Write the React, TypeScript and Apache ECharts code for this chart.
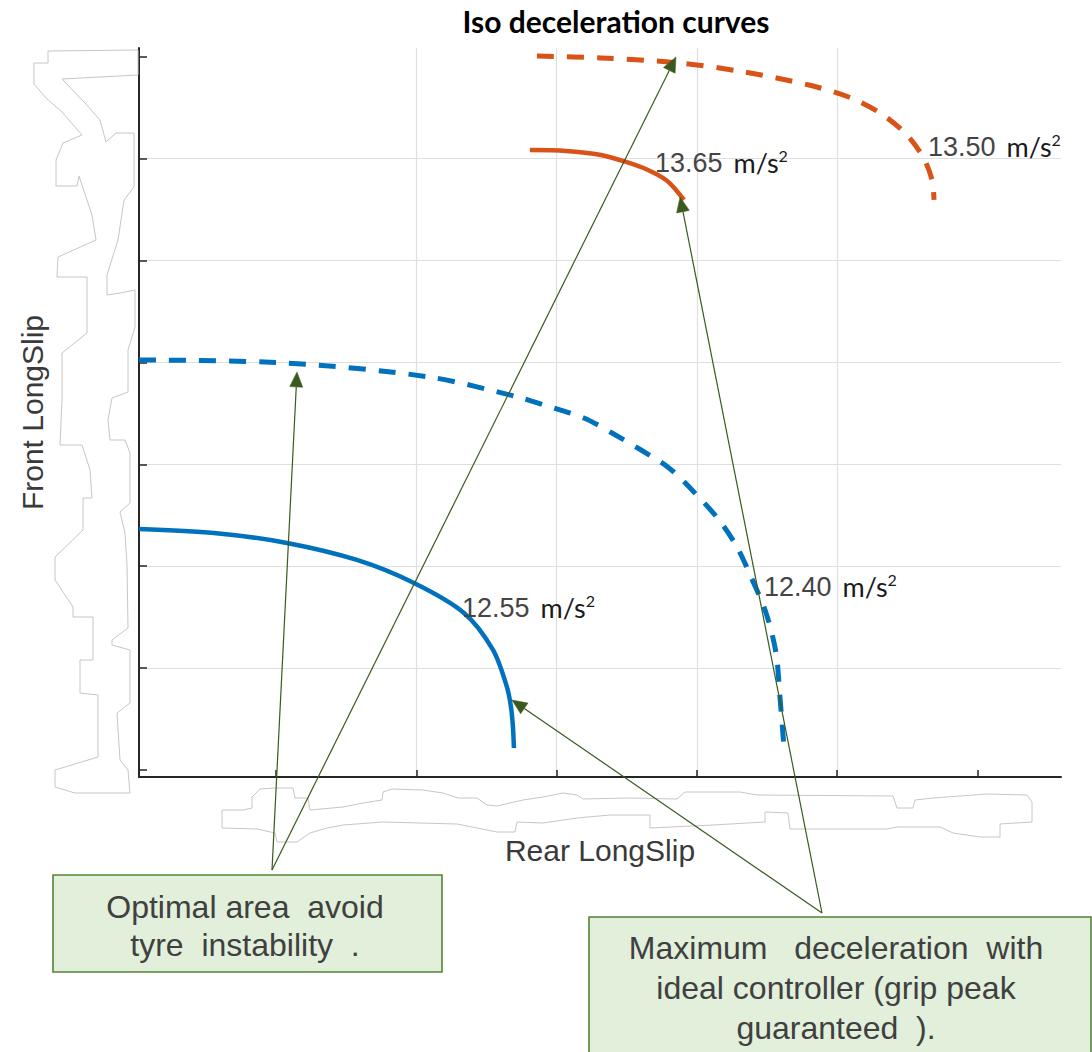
import React, { useEffect, useRef } from "react";
import * as echarts from "echarts";

// ---- axis ranges (anonymous units: ticks hidden in the original) ----
const xTicks = [1, 2, 3, 4, 5, 6];
const yTicks = [0, 1, 2, 3, 4, 5, 6, 7];
const X_MIN = 0.024;
const X_MAX = 6.595;
const Y_MIN = -0.069;
const Y_MAX = 7.085;

// ---- curves [rear slip, front slip] ----
const blue1255: number[][] = [
  [0.024, 2.365], [0.558, 2.326], [1.078, 2.228], [1.577, 2.061], [1.984, 1.835],
  [2.34, 1.541], [2.547, 1.178], [2.646, 0.815], [2.675, 0.618], [2.689, 0.422], [2.696, 0.216],
];
const blue1240: number[][] = [
  [0.024, 4.024], [1.071, 3.994], [2.091, 3.857], [2.725, 3.66], [2.91, 3.582],
  [3.195, 3.454], [3.395, 3.307], [3.602, 3.14], [3.801, 2.964], [3.979, 2.728],
  [4.158, 2.453], [4.286, 2.188], [4.386, 1.894], [4.493, 1.541], [4.564, 1.148],
  [4.592, 0.716], [4.621, 0.216],
];
const orange1365: number[][] = [
  [2.81, 6.084], [3.067, 6.075], [3.316, 6.035], [3.495, 5.967], [3.651, 5.888],
  [3.78, 5.79], [3.851, 5.692], [3.908, 5.594],
];
const orange1350: number[][] = [
  [2.86, 7.007], [3.316, 6.987], [3.88, 6.938], [4.336, 6.85], [4.799, 6.722],
  [5.098, 6.595], [5.305, 6.448], [5.483, 6.251], [5.612, 6.016], [5.676, 5.79], [5.69, 5.594],
];

// ---- curve labels ----
const labelValues = ["12.55", "12.40", "13.65", "13.50"];
const labelCoords: number[][] = [
  [2.326, 1.59], [4.478, 1.796], [3.701, 5.957], [5.647, 6.114],
];

// ---- annotation arrows: tip in data units ----
const arrowTipsBox1: number[][] = [[1.15, 3.906], [3.851, 6.997]];
const arrowTipsBox2: number[][] = [[3.88, 5.623], [2.682, 0.687]];

const BLUE = "#0072BD";
const ORANGE = "#D95319";
const ARROW = "#3a5a1e";

// traced outlines of erased tick labels (page pixels)
const leftOutline: number[][] = [
  [48, 51], [48, 63], [34, 63], [34, 84], [46, 98], [62, 112], [82, 135], [63, 143], [56, 160],
  [56, 186], [77, 186], [79, 176], [92, 215], [96, 240], [58, 257], [57, 277], [87, 277],
  [87, 333], [62, 353], [62, 400], [60, 445], [82, 445], [90, 470], [92, 498], [83, 498],
  [83, 530], [55, 557], [55, 580], [73, 607], [73, 617], [93, 617], [93, 660], [80, 660],
  [80, 693], [98, 695], [98, 757], [55, 770], [55, 787], [75, 793], [130, 793], [128, 770],
  [120, 760], [117, 713], [130, 703], [130, 650], [112, 645], [112, 640], [128, 628],
  [127, 565], [125, 533], [120, 512], [130, 503], [130, 453], [125, 440], [110, 440],
  [108, 420], [112, 398], [128, 392], [128, 350], [135, 327], [135, 290], [120, 293],
  [107, 295], [107, 275], [118, 240], [124, 200], [134, 187], [134, 133], [116, 133],
  [106, 142], [100, 120], [85, 103], [62, 79], [138, 75], [138, 50],
];
const bottomOutline: number[][] = [
  [222, 810], [243, 810], [252, 808], [252, 797], [260, 789], [275, 788], [293, 788],
  [295, 798], [308, 798], [310, 810], [343, 807], [363, 803], [382, 800], [383, 792],
  [392, 789], [423, 790], [443, 793], [458, 798], [477, 798], [487, 805], [497, 806],
  [523, 800], [543, 797], [563, 793], [577, 795], [583, 799], [630, 798], [677, 799],
  [685, 792], [740, 792], [757, 795], [893, 796], [897, 808], [913, 808], [915, 800],
  [933, 798], [987, 794], [1027, 795], [1032, 802], [1032, 822], [1000, 824], [1000, 837],
  [980, 837], [953, 833], [940, 827], [897, 827], [887, 829], [790, 829], [788, 813],
  [765, 812], [765, 822], [713, 825], [650, 828], [650, 815], [620, 815], [610, 815],
  [577, 818], [543, 823], [517, 822], [515, 832], [497, 832], [477, 828], [457, 824],
  [383, 822], [343, 825], [327, 828], [310, 833], [297, 842], [277, 842], [275, 833],
  [257, 829], [222, 828],
];

function arrowGraphics(base: number[], tip: number[]) {
  const dx = tip[0] - base[0];
  const dy = tip[1] - base[1];
  const len = Math.sqrt(dx * dx + dy * dy);
  const ux = dx / len, uy = dy / len;
  const nx = -uy, ny = ux;
  const L = 15, W = 6.5;
  const bx = tip[0] - ux * L, by = tip[1] - uy * L;
  return [
    {
      type: "line",
      shape: { x1: base[0], y1: base[1], x2: bx, y2: by },
      style: { stroke: ARROW, lineWidth: 1.2 },
      z: 20,
    },
    {
      type: "polygon",
      shape: { points: [[tip[0], tip[1]], [bx + nx * W, by + ny * W], [bx - nx * W, by - ny * W]] },
      style: { fill: ARROW, stroke: ARROW, lineWidth: 0.5 },
      z: 20,
    },
  ];
}

export default function App() {
  const ref = useRef<HTMLDivElement>(null);
  useEffect(() => {
    document.body.style.margin = "0";
    const chart = echarts.init(ref.current!, undefined, { renderer: "svg" });
    const lineSeries = (data: number[][], color: string, dashed: boolean, idx: number) => ({
      type: "line",
      data,
      showSymbol: false,
      smooth: 0.3,
      silent: true,
      clip: false,
      lineStyle: dashed
        ? { color, width: 5, type: [17, 13] }
        : { color, width: 4.5 },
      markPoint: {
        symbol: "circle",
        symbolSize: 0,
        silent: true,
        data: [{ coord: labelCoords[idx] }],
        label: {
          show: true,
          position: "right",
          distance: 0,
          formatter: `{n|${labelValues[idx]}}{u|m/s}{s|2}`,
          rich: {
            n: { fontFamily: "Liberation Sans", fontSize: 27, color: "#454545", lineHeight: 30 },
            u: { fontFamily: "Lato", fontSize: 27, color: "#1a1a1a", lineHeight: 30, padding: [0, 0, 0, 11] },
            s: { fontFamily: "Lato", fontSize: 16, color: "#1a1a1a", lineHeight: 18, verticalAlign: "top" },
          },
        },
      },
    });
    const option: any = {
      animation: false,
      backgroundColor: "#ffffff",
      grid: { left: 139, right: 31, top: 48, bottom: 275, containLabel: false },
      xAxis: {
        type: "value",
        min: X_MIN,
        max: X_MAX,
        minInterval: 1,
        maxInterval: 1,
        name: "Rear LongSlip",
        nameLocation: "middle",
        nameGap: 58,
        nameTextStyle: { fontFamily: "Liberation Sans", fontSize: 30, color: "#3a3a3a" },
        axisLine: { show: true, onZero: false, lineStyle: { color: "#262626", width: 2 } },
        axisTick: { show: true, inside: true, length: 7, customValues: xTicks, lineStyle: { color: "#262626", width: 1.5 } },
        axisLabel: { show: false },
        splitLine: { show: true, showMinLine: false, showMaxLine: false, lineStyle: { color: "#dfdfdf", width: 1.2 } },
      },
      yAxis: {
        type: "value",
        min: Y_MIN,
        max: Y_MAX,
        minInterval: 1,
        maxInterval: 1,
        name: "Front LongSlip",
        nameLocation: "middle",
        nameGap: 92,
        nameRotate: 90,
        nameTextStyle: { fontFamily: "Liberation Sans", fontSize: 30, color: "#3a3a3a" },
        axisLine: { show: true, onZero: false, lineStyle: { color: "#262626", width: 2 } },
        axisTick: { show: true, inside: true, length: 8, customValues: yTicks, lineStyle: { color: "#262626", width: 1.5 } },
        axisLabel: { show: false },
        splitLine: { show: true, showMinLine: false, showMaxLine: false, lineStyle: { color: "#dfdfdf", width: 1.2 } },
      },
      series: [
        lineSeries(blue1255, BLUE, false, 0),
        lineSeries(blue1240, BLUE, true, 1),
        lineSeries(orange1365, ORANGE, false, 2),
        lineSeries(orange1350, ORANGE, true, 3),
      ],
    };
    chart.setOption(option);

    const px = (p: number[]) => chart.convertToPixel({ gridIndex: 0 }, p) as number[];
    const base1 = [272, 870];
    const base2 = [822, 913];
    const graphics: any[] = [
      {
        type: "polyline",
        shape: { points: [...leftOutline, leftOutline[0]] },
        style: { stroke: "#c6c6c6", fill: null, lineWidth: 1 },
        z: 1,
      },
      {
        type: "polyline",
        shape: { points: [...bottomOutline, bottomOutline[0]] },
        style: { stroke: "#c6c6c6", fill: null, lineWidth: 1 },
        z: 1,
      },
      {
        type: "text",
        x: 616,
        y: 21,
        style: {
          text: "Iso deceleration curves",
          font: "bold 30px Lato",
          fill: "#000000",
          textAlign: "center",
          textVerticalAlign: "middle",
        },
      },
      {
        type: "rect",
        shape: { x: 53, y: 875, width: 389, height: 97 },
        style: { fill: "#e2efda", stroke: "#548235", lineWidth: 1.6 },
        z: 10,
      },
      {
        type: "text",
        x: 245,
        y: 926,
        style: {
          text: "Optimal area  avoid\ntyre  instability  .",
          font: "32px 'Liberation Sans'",
          fill: "#404040",
          textAlign: "center",
          textVerticalAlign: "middle",
          lineHeight: 38,
        },
        z: 11,
      },
      {
        type: "rect",
        shape: { x: 589, y: 917, width: 502, height: 150 },
        style: { fill: "#e2efda", stroke: "#548235", lineWidth: 1.6 },
        z: 10,
      },
      {
        type: "text",
        x: 836,
        y: 988,
        style: {
          text: "Maximum   deceleration  with\nideal controller (grip peak\nguaranteed  ).",
          font: "32px 'Liberation Sans'",
          fill: "#404040",
          textAlign: "center",
          textVerticalAlign: "middle",
          lineHeight: 40,
        },
        z: 11,
      },
    ];
    arrowTipsBox1.forEach((t) => graphics.push(...arrowGraphics(base1, px(t))));
    arrowTipsBox2.forEach((t) => graphics.push(...arrowGraphics(base2, px(t))));
    chart.setOption({ graphic: graphics });

    return () => chart.dispose();
  }, []);
  return <div ref={ref} style={{ width: 1092, height: 1052 }} />;
}
